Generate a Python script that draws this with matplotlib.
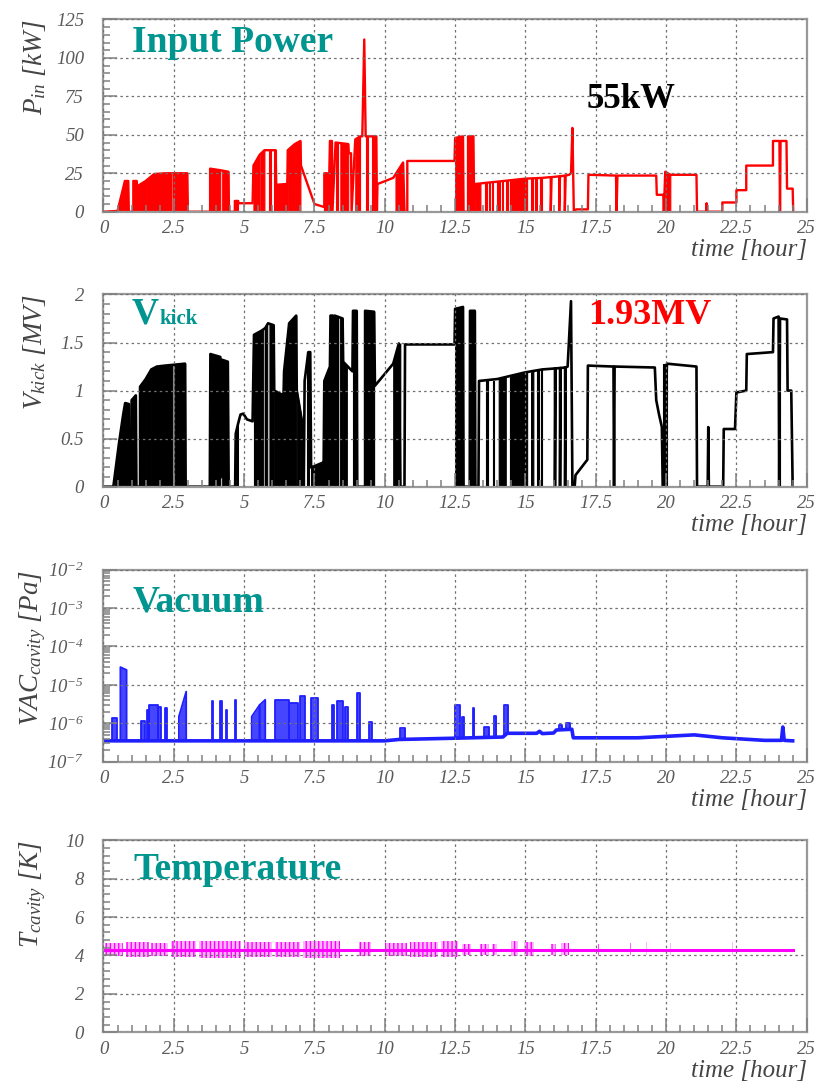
import numpy as np
import matplotlib
matplotlib.use('Agg')
import matplotlib.pyplot as plt
from matplotlib.ticker import MultipleLocator, FixedLocator, LogLocator, NullFormatter, FuncFormatter

plt.rcParams['font.family'] = ['Liberation Serif', 'DejaVu Serif']
plt.rcParams['font.style'] = 'italic'
plt.rcParams['mathtext.fontset'] = 'custom'
plt.rcParams['mathtext.rm'] = 'Liberation Serif:italic'
plt.rcParams['mathtext.it'] = 'Liberation Serif:italic'
plt.rcParams['mathtext.bf'] = 'Liberation Serif:bold'
plt.rcParams['hatch.linewidth'] = 1.0

# ---------------- data ----------------
# Input power [kW] : trace (t, P) and solid regions (t0, t1, top0, top1)
p_trace = [
    (0, 0), (0.5, 0.5), (0.76, 20), (0.88, 20), (0.9, 0), (1.06, 0), (1.06, 20), (1.18, 20),
    (1.2, 0), (1.24, 0), (1.24, 17), (1.5, 20), (1.8, 24.5), (2.2, 25), (2.98, 25), (3.0, 0),
    (3.79, 0), (3.79, 28), (4.15, 27), (4.44, 26), (4.46, 0), (4.67, 0), (4.67, 7), (4.79, 7),
    (4.79, 5.5), (5.3, 5.5), (5.33, 30), (5.55, 37), (5.72, 40), (6.12, 40), (6.14, 17.5),
    (6.5, 18), (6.52, 0), (6.55, 40), (6.8, 44), (7.0, 46), (7.02, 30), (7.5, 5), (7.85, 3),
    (7.85, 25), (7.95, 25), (8.0, 0), (8.05, 46), (8.12, 46), (8.14, 0), (8.25, 45), (8.7, 44),
    (8.72, 38), (8.8, 38), (8.82, 0), (8.95, 47), (9.12, 49), (9.2, 49), (9.27, 112),
    (9.32, 49), (9.7, 49), (9.72, 0), (9.74, 18), (10.3, 22), (10.65, 32), (10.7, 0),
    (10.8, 0), (10.8, 33), (12.48, 33), (12.5, 48), (12.78, 49), (12.8, 0), (12.96, 0),
    (12.96, 49), (13.15, 49), (13.18, 0), (13.2, 18), (15.0, 21.5), (15.6, 22), (15.9, 22.5),
    (15.9, 0), (15.93, 22.5), (16.2, 23), (16.2, 0), (16.23, 23), (16.4, 23.5), (16.4, 0),
    (16.43, 23.5), (16.55, 24), (16.62, 25), (16.67, 54.5), (16.72, 0), (16.8, 1.5),
    (17.22, 1.5), (17.24, 24), (18.22, 23.5), (18.24, 0), (18.27, 23.5), (19.65, 23.5),
    (19.67, 11), (19.9, 11), (19.92, 0), (19.97, 26), (20.15, 24), (21.08, 24), (21.1, 0),
    (21.42, 0), (21.44, 5.5), (21.46, 0), (22.0, 0), (22.0, 6), (22.5, 6), (22.5, 14),
    (22.85, 14), (22.85, 30), (23.8, 30), (23.8, 46), (24.03, 46), (24.05, 0), (24.07, 46),
    (24.28, 46), (24.3, 15), (24.5, 15), (24.52, 0),
]
p_blocks = [
    (0.55, 0.76, 3, 20), (0.76, 0.88, 20, 20), (1.06, 1.18, 20, 20),
    (1.24, 1.5, 17, 20), (1.5, 1.8, 20, 24.5), (1.8, 2.42, 24.5, 25), (2.48, 2.98, 25, 25),
    (3.79, 4.15, 28, 27), (4.22, 4.44, 26.5, 26), (4.67, 4.79, 7, 7),
    (5.33, 5.55, 30, 37), (5.58, 5.72, 38, 40), (5.9, 5.94, 40, 40), (6.05, 6.12, 40, 40),
    (6.15, 6.5, 17.5, 18), (6.55, 6.8, 40, 44), (6.8, 7.0, 44, 46), (7.85, 7.95, 25, 25),
    (8.05, 8.12, 46, 46), (8.25, 8.33, 45, 45), (8.42, 8.7, 45, 44), (8.95, 9.12, 47, 49),
    (9.32, 9.42, 49, 49), (9.55, 9.7, 49, 49), (10.38, 10.65, 25, 32),
    (12.5, 12.78, 48, 49), (12.96, 13.15, 49, 49), (13.22, 13.4, 18, 18.5),
    (13.55, 13.62, 19, 19), (13.7, 13.74, 19, 19), (13.8, 13.86, 19, 19),
    (14.0, 14.1, 19.5, 19.5), (14.18, 14.22, 20, 20), (14.3, 14.38, 20, 20),
    (14.45, 15.06, 20, 21.5), (15.2, 15.26, 21.5, 21.5), (15.35, 15.4, 21.8, 21.8),
    (15.5, 15.58, 22, 22), (19.97, 20.15, 26, 24),
]

# Kick voltage [MV]
v_trace = [
    (0, 0), (0.35, 0), (0.55, 0.45), (0.7, 0.75), (0.77, 0.87), (0.9, 0.86), (0.92, 0),
    (1.0, 0), (1.0, 0.9), (1.15, 0.95), (1.17, 0), (1.3, 0), (1.3, 1.04), (1.5, 1.12),
    (1.7, 1.22), (1.9, 1.25), (2.2, 1.26), (2.9, 1.28), (2.92, 0), (3.78, 0), (3.8, 1.38),
    (4.15, 1.35), (4.17, 0.1), (4.2, 0.1), (4.22, 1.32), (4.42, 1.3), (4.45, 0), (4.68, 0),
    (4.7, 0.55), (4.78, 0.65), (4.87, 0.75), (4.97, 0.76), (5.1, 0.7), (5.3, 0.68),
    (5.35, 1.58), (5.6, 1.62), (5.75, 1.65), (5.85, 1.7), (6.05, 1.68), (6.07, 1.0),
    (6.4, 0.95), (6.42, 1.2), (6.6, 1.7), (6.85, 1.78), (6.87, 1.0), (7.1, 0.6), (7.12, 0),
    (7.15, 1.1), (7.28, 1.4), (7.35, 1.4), (7.38, 0.2), (7.8, 0.25), (7.82, 0), (7.85, 1.1),
    (8.05, 1.25), (8.07, 1.78), (8.15, 1.78), (8.17, 0), (8.22, 1.78), (8.5, 1.75),
    (8.52, 1.3), (8.85, 1.2), (8.87, 1.83), (9.0, 1.83), (9.02, 0), (9.3, 0), (9.3, 1.83),
    (9.62, 1.82), (9.65, 1.05), (10.3, 1.28), (10.5, 1.49), (10.55, 0), (10.7, 0),
    (10.72, 1.48), (12.48, 1.48), (12.5, 1.85), (12.78, 1.87), (12.8, 0), (13.02, 0),
    (13.03, 1.83), (13.2, 1.83), (13.22, 0), (13.33, 0), (13.35, 1.1), (14.0, 1.12),
    (15.0, 1.19), (15.6, 1.22), (16.05, 1.23), (16.05, 0), (16.07, 1.23), (16.23, 1.235),
    (16.23, 0), (16.25, 1.235), (16.41, 1.24), (16.41, 0), (16.43, 1.24), (16.5, 1.25),
    (16.62, 1.93), (16.67, 0), (16.75, 0), (16.78, 0.12), (17.2, 0.28), (17.22, 1.26),
    (18.13, 1.25), (18.15, 0), (18.17, 1.25), (19.6, 1.24), (19.65, 0.9), (19.75, 0.75),
    (19.85, 0.62), (19.88, 0), (20.03, 1.28), (21.08, 1.25), (21.1, 0), (21.48, 0),
    (21.5, 0.62), (21.52, 0), (22.03, 0), (22.05, 0.6), (22.45, 0.6), (22.5, 0.98),
    (22.85, 1.0), (22.87, 1.38), (23.8, 1.4), (23.82, 1.75), (24.0, 1.77), (24.02, 0),
    (24.05, 1.75), (24.3, 1.74), (24.32, 1.0), (24.45, 1.0), (24.5, 0),
]
v_blocks = [
    (0.4, 0.55, 0.05, 0.45), (0.55, 0.77, 0.45, 0.87), (0.77, 0.9, 0.87, 0.86),
    (1.0, 1.15, 0.9, 0.95), (1.3, 1.5, 1.04, 1.12), (1.5, 1.7, 1.12, 1.22),
    (1.7, 1.9, 1.22, 1.25), (1.9, 2.45, 1.25, 1.27), (2.52, 2.9, 1.27, 1.28),
    (3.8, 4.15, 1.38, 1.35), (4.22, 4.42, 1.32, 1.3), (4.7, 4.78, 0.55, 0.65),
    (5.35, 5.68, 1.58, 1.64), (5.74, 5.82, 1.65, 1.68), (5.9, 6.05, 1.7, 1.68),
    (6.07, 6.4, 1.0, 0.95), (6.42, 6.6, 1.2, 1.7), (6.6, 6.85, 1.7, 1.78),
    (6.87, 7.1, 1.0, 0.6), (7.22, 7.3, 1.4, 1.4), (7.38, 7.8, 0.2, 0.25),
    (7.85, 8.05, 1.1, 1.25), (8.07, 8.15, 1.78, 1.78), (8.22, 8.32, 1.78, 1.78),
    (8.4, 8.5, 1.76, 1.75), (8.52, 8.65, 1.3, 1.25), (8.87, 9.0, 1.83, 1.83),
    (9.3, 9.62, 1.83, 1.82), (10.3, 10.55, 1.28, 1.49), (12.5, 12.78, 1.85, 1.87),
    (13.03, 13.2, 1.83, 1.83), (13.6, 13.66, 1.1, 1.1), (13.85, 13.9, 1.1, 1.1),
    (14.05, 14.3, 1.12, 1.15), (14.45, 15.06, 1.16, 1.19), (15.2, 15.28, 1.19, 1.2),
    (15.4, 15.47, 1.2, 1.2), (15.55, 15.6, 1.22, 1.22), (19.88, 20.03, 1.28, 1.28),
    (24.0, 24.05, 1.77, 1.75),
]

# Cavity vacuum [Pa] : base level and bursts (t0, t1, top0, top1)
vac_base = [
    (0, 3.5e-7), (10.0, 3.5e-7), (10.5, 3.8e-7), (12.5, 4.1e-7), (14.2, 4.4e-7),
    (14.35, 5.5e-7), (15.4, 5.5e-7), (15.5, 6.2e-7), (15.6, 5.4e-7), (16.0, 5.6e-7),
    (16.1, 6.7e-7), (16.65, 7.0e-7), (16.7, 4.2e-7), (19.0, 4.2e-7), (21.0, 5.0e-7),
    (22.0, 4.2e-7), (23.5, 3.6e-7), (24.1, 3.6e-7), (24.15, 8e-7), (24.2, 3.6e-7),
    (24.5, 3.5e-7),
]
vac_bursts = [
    (0.3, 0.47, 1.35e-6, 1.35e-6), (0.6, 0.82, 2.9e-5, 2.45e-5), (1.35, 1.48, 1.17e-6, 1.17e-6),
    (1.54, 1.62, 2.2e-6, 2.2e-6), (1.62, 1.95, 3.0e-6, 3.0e-6), (1.95, 2.05, 2.6e-6, 2.6e-6),
    (2.2, 2.26, 2.45e-6, 2.45e-6), (2.68, 2.94, 1.5e-6, 6.7e-6), (3.85, 3.9, 3.7e-6, 3.7e-6),
    (4.15, 4.23, 3.7e-6, 3.7e-6), (4.36, 4.4, 2.2e-6, 2.2e-6), (4.68, 4.72, 4.1e-6, 4.1e-6),
    (5.27, 5.55, 1.5e-6, 3.0e-6), (5.55, 5.75, 3.0e-6, 4.1e-6), (6.08, 6.6, 4.1e-6, 4.1e-6),
    (6.6, 6.9, 3.4e-6, 3.4e-6), (6.98, 7.17, 5.0e-6, 5.0e-6), (7.36, 7.64, 4.5e-6, 4.5e-6),
    (8.12, 8.2, 3.0e-6, 3.0e-6), (8.31, 8.5, 3.7e-6, 3.7e-6), (8.6, 8.7, 2.7e-6, 2.7e-6),
    (9.0, 9.12, 6.3e-6, 6.3e-6), (9.45, 9.56, 1.1e-6, 1.1e-6), (10.53, 10.72, 7.4e-7, 7.4e-7),
    (12.48, 12.67, 3.0e-6, 3.0e-6), (12.74, 12.8, 1.5e-6, 1.5e-6), (13.12, 13.18, 2.45e-6, 2.45e-6),
    (13.52, 13.71, 8.1e-7, 8.1e-7), (13.9, 13.97, 1.58e-6, 1.58e-6), (14.25, 14.38, 3.0e-6, 3.0e-6),
    (16.2, 16.3, 9e-7, 9e-7), (16.45, 16.6, 1.0e-6, 1.0e-6),
]

# Cavity temperature [K] : base level and noisy stretches (t0, t1, low, high)
temp_base = [(0, 4.3), (24.5, 4.3)]
temp_noise = [
    (0.05, 0.7, 3.95, 4.65), (0.8, 1.6, 3.9, 4.7), (1.7, 2.3, 3.95, 4.65), (2.4, 3.3, 3.9, 4.75),
    (3.4, 4.9, 3.85, 4.75), (5.0, 6.0, 3.9, 4.7), (6.1, 7.0, 3.9, 4.7), (7.1, 8.4, 3.85, 4.75),
    (9.1, 9.5, 3.95, 4.7), (10.0, 10.8, 3.95, 4.65), (10.9, 11.9, 3.9, 4.7),
    (12.0, 12.6, 3.9, 4.75), (12.75, 13.05, 4.0, 4.6), (13.4, 13.7, 4.0, 4.6),
    (13.8, 14.0, 4.0, 4.6), (14.5, 14.75, 3.95, 4.75), (14.95, 15.3, 3.95, 4.7),
    (15.9, 16.1, 4.0, 4.6), (16.25, 16.55, 4.0, 4.65),
    (17.58, 17.62, 4.05, 4.6), (18.73, 18.77, 4.05, 4.65), (19.28, 19.32, 4.0, 4.7),
    (20.13, 20.17, 4.05, 4.65), (22.33, 22.37, 4.0, 4.7),
]

teal = '#00958f'
grey_tick = '#5a5a5a'

fig = plt.figure(figsize=(8.34, 10.89), dpi=100)
left, width, height = 0.1241, 0.8432, 0.1765
bottoms = [0.8056, 0.5531, 0.3005, 0.0520]
axes = [fig.add_axes([left, b, width, height]) for b in bottoms]


def style(ax, ylabel):
    ax.set_xlim(0, 25)
    ax.xaxis.set_major_locator(MultipleLocator(2.5))
    ax.xaxis.set_minor_locator(MultipleLocator(0.5))
    ax.xaxis.set_major_formatter(FuncFormatter(lambda v, p: '%g' % v))
    ax.tick_params(which='both', direction='in', color='#808080', labelcolor=grey_tick,
                   labelsize=13.5, width=1.1)
    ax.tick_params(which='major', length=10)
    ax.tick_params(which='minor', length=5)
    ax.tick_params(axis='x', pad=6)
    ax.tick_params(axis='y', pad=14)
    for s in ax.spines.values():
        s.set_color('#9a9a9a')
        s.set_linewidth(1.6)
    ax.grid(True, which='major', color='#707070', linestyle=(0, (2, 2.5)), linewidth=0.9)
    ax.set_axisbelow(False)
    ax.set_xlabel('time [hour]', loc='right', fontsize=18, color='#444444')
    ax.xaxis.set_label_coords(1.0, -0.142)
    ax.set_ylabel(ylabel, loc='top', fontsize=19.5, color='#444444')
    ax.yaxis.set_label_coords(-0.079, 1.0)


def title(ax, x, y, s, size, color):
    ax.text(x, y, s, transform=ax.transAxes, fontsize=size, fontweight='bold',
            fontstyle='normal', color=color, va='baseline')


def draw_blocks(ax, blocks, color):
    for t0, t1, a, b in blocks:
        ax.fill_between([t0, t1], [0, 0], [a, b], color=color, lw=0.8)


# Panel 1: input power
ax = axes[0]
t, v = zip(*p_trace)
draw_blocks(ax, p_blocks, '#ff0000')
ax.plot(t, v, color='#ff0000', lw=1.7)
ax.set_ylim(0, 125)
ax.yaxis.set_major_locator(MultipleLocator(25))
ax.yaxis.set_minor_locator(MultipleLocator(5))
ax.yaxis.set_major_formatter(FuncFormatter(lambda v, p: '%g' % v))
style(ax, r'$P_{in}$ [kW]')
title(ax, 0.04, 0.831, 'Input Power', 27, teal)
title(ax, 0.687, 0.54, '55kW', 25, 'black')

# Panel 2: kick voltage
ax = axes[1]
t, v = zip(*v_trace)
draw_blocks(ax, v_blocks, 'black')
ax.plot(t, v, color='black', lw=1.9)
ax.set_ylim(0, 2)
ax.yaxis.set_major_locator(MultipleLocator(0.5))
ax.yaxis.set_minor_locator(MultipleLocator(0.1))
ax.yaxis.set_major_formatter(FuncFormatter(lambda v, p: '%g' % v))
style(ax, r'$V_{kick}$ [MV]')
title(ax, 0.04, 0.848, 'V', 27, teal)
title(ax, 0.079, 0.848, 'kick', 15, teal)
title(ax, 0.689, 0.848, '1.93MV', 26, '#ff0000')

# Panel 3: vacuum
ax = axes[2]
ax.set_yscale('log')
bt, bv = zip(*vac_base)
for t0, t1, a, b in vac_bursts:
    lo0, lo1 = np.interp([t0, t1], bt, bv)
    ax.fill_between([t0, t1], [lo0, lo1], [a, b], color='#2626ff', lw=0, alpha=0.85)
    ax.plot([t0, t0, t1, t1], [lo0, a, b, lo1], color='#1f1fff', lw=1.3)
ax.plot(bt, bv, color='#1f1fff', lw=2.6)
ax.set_ylim(1e-7, 1e-2)
ax.yaxis.set_major_locator(FixedLocator([1e-7, 1e-6, 1e-5, 1e-4, 1e-3, 1e-2]))
ax.yaxis.set_major_formatter(FuncFormatter(lambda v, p: r'$10^{%d}$' % round(np.log10(v))))
ax.yaxis.set_minor_locator(LogLocator(base=10, subs=np.arange(2, 10), numticks=20))
ax.yaxis.set_minor_formatter(NullFormatter())
style(ax, r'$VAC_{cavity}$ [Pa]')
title(ax, 0.042, 0.782, 'Vacuum', 27, teal)

# Panel 4: temperature
ax = axes[3]
for t0, t1, lo, hi in temp_noise:
    ax.fill_between([t0, t1], [lo, lo], [hi, hi], facecolor='#ffb8ff', edgecolor='#ff00ff',
                    hatch='||||', lw=0)
t, v = zip(*temp_base)
ax.plot(t, v, color='#ff00ff', lw=2.2)
ax.set_ylim(0, 10)
ax.yaxis.set_major_locator(MultipleLocator(2))
ax.yaxis.set_minor_locator(MultipleLocator(0.4))
style(ax, r'$T_{cavity}$ [K]')
title(ax, 0.042, 0.796, 'Temperature', 27, teal)

fig.savefig('out.png', dpi=100)
